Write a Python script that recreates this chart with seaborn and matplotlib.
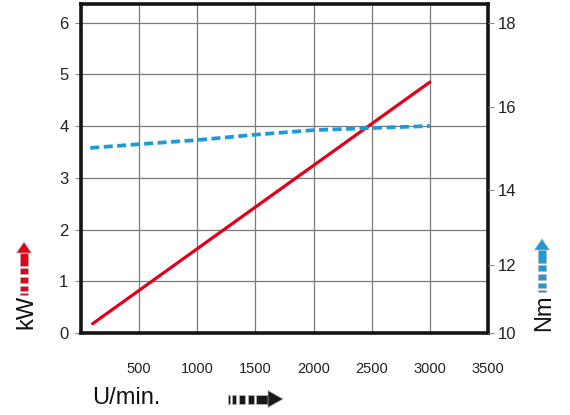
import numpy as np
import matplotlib
matplotlib.use('Agg')
import matplotlib.pyplot as plt
import seaborn as sns
from matplotlib.patches import Rectangle, Polygon

# data
rpm_power = [100, 3000]
power_kw = [0.18, 4.85]

rpm_torque = [80, 500, 1000, 1500, 2000, 2500, 3000]
torque_nm = [15.01, 15.1, 15.2, 15.33, 15.44, 15.49, 15.54]

x_ticks = [500, 1000, 1500, 2000, 2500, 3000, 3500]
kw_ticks = [0, 1, 2, 3, 4, 5, 6]
nm_ticks = [10, 12, 14, 16, 18]
# the right scale of the original is not evenly spaced: Nm tick -> kW height
nm_pos_kw = [0.0, 1.31, 2.77, 4.37, 6.0]

RED = '#e2001a'
BLUE = '#1c9bd8'
W, H = 570, 415

sns.set_style('white')
plt.rcParams['font.family'] = ['Liberation Sans', 'DejaVu Sans']

fig = plt.figure(figsize=(W / 100, H / 100), dpi=100)
ax = fig.add_axes([81 / W, 1 - 333 / H, (488 - 81) / W, (333 - 4) / H])

ax.set_xlim(0, 3500)
ax.set_ylim(0, 6.36)
ax.set_xticks(x_ticks)
ax.set_yticks(kw_ticks)
ax.grid(True, color='#7a7a7a', linewidth=0.9)
ax.set_axisbelow(True)
for s in ax.spines.values():
    s.set_linewidth(2.6)
    s.set_color('#141414')
ax.tick_params(axis='y', direction='out', length=4, width=0.8, color='#888888',
               labelsize=12, labelcolor='#222222', pad=5)
ax.tick_params(axis='x', direction='out', length=6, width=0.8, color='#888888',
               labelsize=10.5, labelcolor='#222222', pad=15)

# torque axis with a piecewise scale (extended linearly above 18 Nm)
nm_knots = nm_ticks + [30]
kw_knots = nm_pos_kw + [6.0 + 12 * 1.63 / 2]


def fwd(v):
    return np.interp(v, nm_knots, kw_knots)


def inv(v):
    return np.interp(v, kw_knots, nm_knots)


ax2 = ax.twinx()
ax2.set_yscale('function', functions=(fwd, inv))
ax2.set_ylim(10, inv(6.36))
ax2.set_yticks(nm_ticks)
ax2.yaxis.set_minor_locator(matplotlib.ticker.NullLocator())
ax2.tick_params(axis='y', direction='out', length=4, width=0.8, color='#888888',
                labelsize=12, labelcolor='#222222', pad=3)
for s in ax2.spines.values():
    s.set_visible(False)

sns.lineplot(x=rpm_power, y=power_kw, ax=ax, color=RED, linewidth=2.3)
sns.lineplot(x=rpm_torque, y=torque_nm, ax=ax2, color=BLUE, linewidth=2.7,
             linestyle=(0, (2.4, 1.2)))
ax.set_xlabel('')
ax.set_ylabel('')
ax2.set_ylabel('')

# axis titles
fig.text(92 / W, 1 - 398 / H, 'U/min.', fontsize=17, color='#111111',
         ha='left', va='center')
fig.text(26 / W, 1 - 312 / H, 'kW', fontsize=17, color='#111111',
         rotation=90, ha='center', va='center')
fig.text(544 / W, 1 - 313 / H, 'Nm', fontsize=17, color='#111111',
         rotation=90, ha='center', va='center')


def px(x, y):
    return (x / W, 1 - y / H)


def dashed_arrow(x0, y0, length, shaft, head_w, head_l, color, vertical):
    # shaft pieces (start, end) as fractions of the shaft length
    segs = [(0.0, 0.04), (0.10, 0.21), (0.28, 0.42), (0.49, 0.64), (0.70, 1.0)]
    sl = length - head_l
    patches = []
    for a, b in segs:
        if vertical:
            patches.append(Rectangle(px(x0 - shaft / 2, y0 - a * sl), shaft / W, (b - a) * sl / H))
        else:
            patches.append(Rectangle(px(x0 + a * sl, y0 + shaft / 2), (b - a) * sl / W, shaft / H))
    if vertical:
        yb = y0 - sl
        pts = [px(x0 - head_w / 2, yb), px(x0 + head_w / 2, yb), px(x0, yb - head_l)]
    else:
        xb = x0 + sl
        pts = [px(xb, y0 - head_w / 2), px(xb, y0 + head_w / 2), px(xb + head_l, y0)]
    patches.append(Polygon(pts, closed=True))
    for p in patches:
        p.set_transform(fig.transFigure)
        p.set_facecolor(color)
        p.set_edgecolor('#b5b5b5')
        p.set_linewidth(0.5)
        fig.patches.append(p)


dashed_arrow(24, 295, 53, 8, 15, 11, RED, True)
dashed_arrow(542, 292, 53, 8, 15, 11, BLUE, True)
dashed_arrow(228, 399, 55, 9, 17, 15, '#1a1a1a', False)

fig.savefig('out.png', dpi=100)
